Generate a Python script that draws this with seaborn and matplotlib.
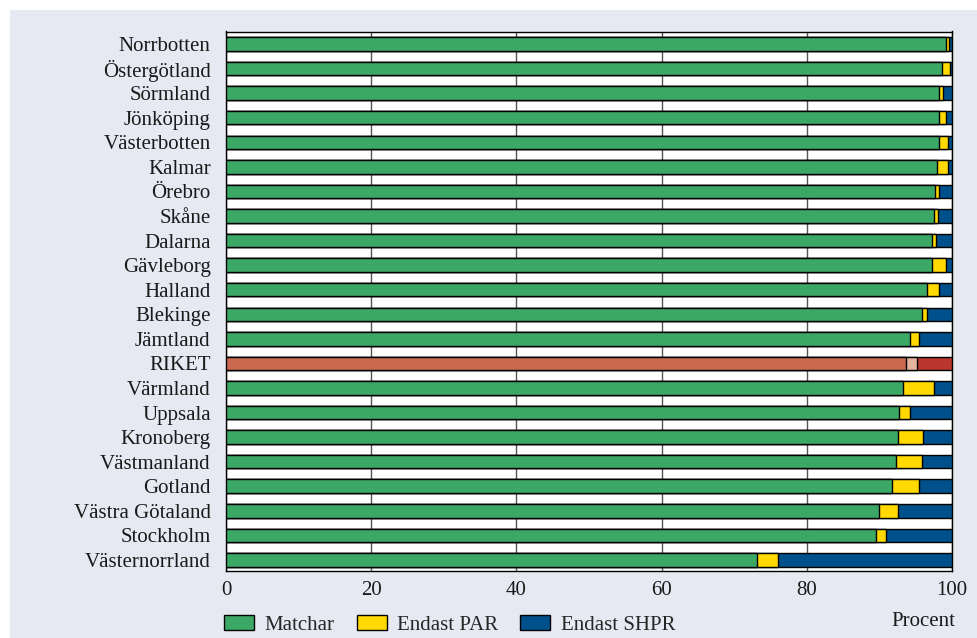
import matplotlib
matplotlib.use("Agg")
import matplotlib.pyplot as plt
from matplotlib.patches import Rectangle, Patch
import pandas as pd
import seaborn as sns

# Share of records per county (percent)
regions = [
    "Norrbotten", "Östergötland", "Sörmland", "Jönköping", "Västerbotten",
    "Kalmar", "Örebro", "Skåne", "Dalarna", "Gävleborg", "Halland",
    "Blekinge", "Jämtland", "RIKET", "Värmland", "Uppsala", "Kronoberg",
    "Västmanland", "Gotland", "Västra Götaland", "Stockholm", "Västernorrland",
]
matchar = [99.2, 98.6, 98.2, 98.2, 98.2, 97.9, 97.7, 97.5, 97.3, 97.3, 96.6,
           95.8, 94.2, 93.6, 93.3, 92.7, 92.5, 92.3, 91.8, 90.0, 89.5, 73.1]
endast_par = [0.4, 1.1, 0.6, 1.0, 1.2, 1.5, 0.5, 0.6, 0.5, 1.9, 1.6,
              0.8, 1.2, 1.6, 4.2, 1.5, 3.5, 3.6, 3.6, 2.6, 1.4, 2.9]
endast_shpr = [0.4, 0.3, 1.2, 0.8, 0.6, 0.6, 1.8, 1.9, 2.2, 0.8, 1.8,
               3.4, 4.6, 4.8, 2.5, 5.8, 4.0, 4.1, 4.6, 7.4, 9.1, 24.0]
x_ticks = [0, 20, 40, 60, 80, 100]
series_names = ["Matchar", "Endast PAR", "Endast SHPR"]

BG = "#e6e9f2"
GREEN, YELLOW, BLUE = "#3ba865", "#ffd900", "#00508c"
RIKET_COLORS = ["#c9694f", "#e4b4a0", "#b9372d"]

df = pd.DataFrame({"region": regions, "Matchar": matchar,
                   "Endast PAR": endast_par, "Endast SHPR": endast_shpr})
df["cum_par"] = df["Matchar"] + df["Endast PAR"]
df["cum_total"] = df["cum_par"] + df["Endast SHPR"]

sns.set_theme(style="white")
plt.rcParams["font.family"] = ["Liberation Serif", "DejaVu Serif"]
FS = 15

fig = plt.figure(figsize=(9.77, 6.38), dpi=100, facecolor="white")
fig.add_artist(Rectangle((10 / 977, 0), 1, 628 / 638, transform=fig.transFigure,
                         facecolor=BG, edgecolor="none", zorder=-10))
ax = fig.add_axes([226 / 977, 1 - 571 / 638, 726 / 977, 539.5 / 638])
ax.set_facecolor("white")

# Stacked bars: draw cumulative totals back to front
layers = [("cum_total", BLUE, RIKET_COLORS[2]),
          ("cum_par", YELLOW, RIKET_COLORS[1]),
          ("Matchar", GREEN, RIKET_COLORS[0])]
for col, color, riket_color in layers:
    pal = {r: (riket_color if r == "RIKET" else color) for r in regions}
    sns.barplot(data=df, x=col, y="region", hue="region", palette=pal,
                order=regions, hue_order=regions, legend=False, orient="h",
                width=0.55, saturation=1, edgecolor="black", linewidth=1.0,
                ax=ax, zorder=3)

ax.set_xlim(0, 100)
ax.set_ylim(21.45, -0.51)
ax.set_xticks(x_ticks)
ax.set_xticklabels([str(t) for t in x_ticks])
ax.set_axisbelow(True)
ax.xaxis.grid(True, color="#555555", linewidth=1.0)
ax.yaxis.grid(False)
ax.set_xlabel("")
ax.set_ylabel("")
for s in ax.spines.values():
    s.set_visible(True)
    s.set_color("black")
    s.set_linewidth(1.0)
ax.tick_params(axis="both", length=0, labelsize=FS, labelcolor="#1a1a1a")
ax.tick_params(axis="y", pad=11)
ax.tick_params(axis="x", pad=7)

fig.text(955 / 977, 1 - 621 / 638, "Procent", ha="right", va="center",
         fontsize=FS, color="#1a1a1a")

handles = [Patch(facecolor=c, edgecolor="black", linewidth=1.0, label=n)
           for c, n in zip([GREEN, YELLOW, BLUE], series_names)]
fig.legend(handles=handles, loc="center left",
           bbox_to_anchor=(224 / 977, 1 - 625 / 638), ncol=3, frameon=False,
           fontsize=FS, handlelength=1.45, handleheight=0.72, handletextpad=0.5,
           columnspacing=1.05, borderpad=0, borderaxespad=0)

fig.savefig("out.png", dpi=100, facecolor=fig.get_facecolor())
